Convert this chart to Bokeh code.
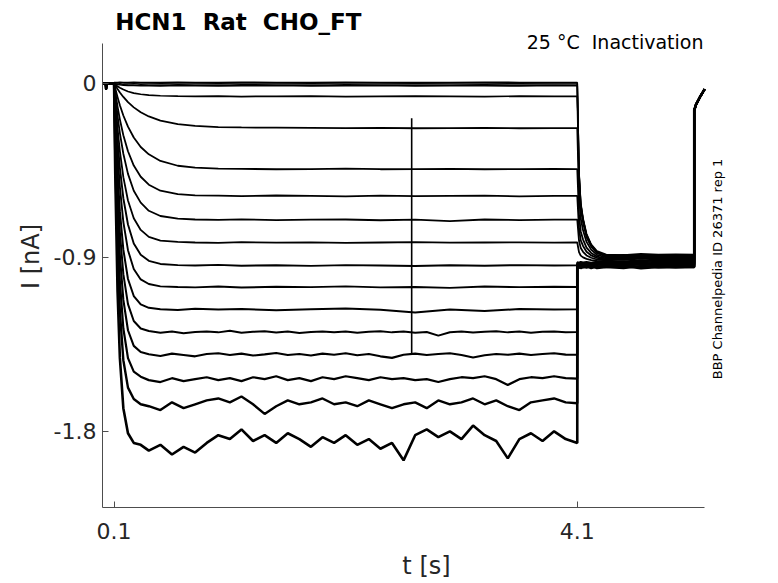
from math import pi
from bokeh.plotting import figure
from bokeh.models import Range1d, FixedTicker, PrintfTickFormatter, Label
from bokeh.embed import file_html
from bokeh.resources import INLINE

# ---------------- data ----------------
# holding period before the prepulse (with the small capacitive blip)
pre_t = [0.0, 0.028, 0.031, 0.034]
pre_i = [0.0, 0.0, -0.03, 0.0]

# prepulse period: knots in seconds
main_t = [0.1, 0.11, 0.13, 0.15, 0.18, 0.22, 0.27, 0.33, 0.4, 0.5, 0.65, 0.8,
          1.0, 1.2, 1.5, 1.8, 2.1, 2.4, 2.7, 3.0, 3.3, 3.6, 3.9, 4.1]

# current (nA) of the quiet sweeps during the prepulse
i_main_01 = [0.004, 0.005, 0.004, 0.006, 0.005, 0.004, 0.006, 0.005, 0.004, 0.005, 0.006, 0.004,
             0.005, 0.006, 0.004, 0.005, 0.006, 0.004, 0.005, 0.004, 0.006, 0.005, 0.004, 0.005]
i_main_02 = [0.0, -0.002, -0.003, -0.002, -0.004, -0.003, -0.002, -0.004, -0.003, -0.002, -0.004, -0.003,
             -0.002, -0.004, -0.003, -0.002, -0.004, -0.003, -0.002, -0.003, -0.004, -0.002, -0.003, -0.003]
i_main_03 = [0.0, -0.002, -0.005, -0.007, -0.009, -0.010, -0.011, -0.012, -0.012, -0.013, -0.011, -0.012,
             -0.013, -0.012, -0.011, -0.013, -0.012, -0.011, -0.013, -0.012, -0.012, -0.013, -0.011, -0.012]
i_main_04 = [0.0, -0.005, -0.015, -0.022, -0.032, -0.042, -0.050, -0.056, -0.061, -0.064, -0.066, -0.067,
             -0.066, -0.068, -0.067, -0.066, -0.068, -0.067, -0.066, -0.067, -0.068, -0.066, -0.067, -0.067]
i_main_05 = [0.0, -0.010, -0.029, -0.047, -0.070, -0.097, -0.124, -0.149, -0.171, -0.193, -0.211, -0.220,
             -0.226, -0.228, -0.229, -0.230, -0.231, -0.230, -0.232, -0.231, -0.230, -0.232, -0.231, -0.231]
i_main_06 = [0.0, -0.025, -0.071, -0.113, -0.166, -0.224, -0.280, -0.329, -0.367, -0.401, -0.426, -0.436,
             -0.441, -0.442, -0.444, -0.443, -0.441, -0.444, -0.443, -0.442, -0.444, -0.443, -0.442, -0.443]
i_main_07 = [0.0, -0.043, -0.120, -0.186, -0.268, -0.351, -0.425, -0.483, -0.524, -0.555, -0.573, -0.579,
             -0.581, -0.583, -0.580, -0.582, -0.584, -0.581, -0.583, -0.582, -0.581, -0.584, -0.582, -0.582]
i_main_08 = [0.0, -0.061, -0.168, -0.257, -0.364, -0.468, -0.555, -0.617, -0.659, -0.686, -0.700, -0.704,
             -0.706, -0.703, -0.707, -0.705, -0.704, -0.708, -0.705, -0.712, -0.704, -0.707, -0.705, -0.705]
i_main_09 = [0.0, -0.086, -0.233, -0.350, -0.485, -0.606, -0.698, -0.758, -0.794, -0.813, -0.820, -0.823,
             -0.825, -0.821, -0.824, -0.822, -0.825, -0.823, -0.821, -0.824, -0.823, -0.822, -0.824, -0.823]
i_main_10 = [0.0, -0.111, -0.294, -0.437, -0.594, -0.730, -0.828, -0.887, -0.918, -0.934, -0.940, -0.942,
             -0.939, -0.943, -0.941, -0.944, -0.940, -0.942, -0.945, -0.941, -0.943, -0.940, -0.942, -0.941]
i_main_11 = [0.0, -0.139, -0.367, -0.536, -0.717, -0.863, -0.960, -1.014, -1.038, -1.050, -1.053, -1.055,
             -1.051, -1.056, -1.052, -1.054, -1.050, -1.055, -1.053, -1.058, -1.051, -1.054, -1.052, -1.053]
i_main_12 = [0.0, -0.179, -0.460, -0.661, -0.860, -1.012, -1.100, -1.143, -1.161, -1.168, -1.172, -1.166,
             -1.170, -1.167, -1.173, -1.168, -1.165, -1.171, -1.185, -1.170, -1.178, -1.167, -1.170, -1.169]

# noisier sweeps: fast onset knots then a finer grid
onset_t = [0.1, 0.11, 0.13, 0.15, 0.18, 0.22, 0.27, 0.33]
noisy_t = [0.4, 0.5, 0.6, 0.7, 0.8, 0.9, 1.0, 1.1, 1.2, 1.3, 1.4, 1.5, 1.6, 1.7, 1.8, 1.9, 2.0,
           2.1, 2.2, 2.3, 2.4, 2.5, 2.6, 2.7, 2.8, 2.9, 3.0, 3.1, 3.2, 3.3, 3.4, 3.5, 3.6, 3.7,
           3.8, 3.9, 4.0, 4.1]
i_on_13 = [0.0, -0.214, -0.541, -0.769, -0.987, -1.142, -1.229, -1.268]
i_ns_13 = [-1.281, -1.290, -1.284, -1.292, -1.286, -1.283, -1.288, -1.280, -1.290, -1.285, -1.282, -1.289,
           -1.284, -1.291, -1.286, -1.283, -1.288, -1.284, -1.290, -1.285, -1.282, -1.288, -1.284, -1.290,
           -1.286, -1.305, -1.287, -1.283, -1.289, -1.285, -1.282, -1.288, -1.284, -1.290, -1.285, -1.283,
           -1.288, -1.286]
i_on_14 = [0.0, -0.255, -0.634, -0.888, -1.120, -1.277, -1.358, -1.390]
i_ns_14 = [-1.401, -1.410, -1.398, -1.405, -1.412, -1.400, -1.396, -1.405, -1.398, -1.408, -1.402, -1.395,
           -1.405, -1.400, -1.408, -1.398, -1.404, -1.396, -1.406, -1.400, -1.412, -1.420, -1.404, -1.398,
           -1.405, -1.400, -1.396, -1.405, -1.418, -1.406, -1.400, -1.404, -1.398, -1.405, -1.400, -1.396,
           -1.403, -1.404]
i_on_15 = [0.0, -0.304, -0.743, -1.024, -1.268, -1.421, -1.491, -1.517]
i_ns_15 = [-1.535, -1.545, -1.525, -1.540, -1.530, -1.520, -1.535, -1.525, -1.540, -1.520, -1.530, -1.515,
           -1.535, -1.525, -1.540, -1.520, -1.530, -1.515, -1.525, -1.535, -1.520, -1.530, -1.525, -1.535,
           -1.530, -1.545, -1.530, -1.520, -1.525, -1.515, -1.530, -1.560, -1.530, -1.520, -1.525, -1.515,
           -1.525, -1.527]
i_on_16 = [0.0, -0.366, -0.874, -1.180, -1.432, -1.574, -1.633, -1.660]
i_ns_16 = [-1.670, -1.690, -1.650, -1.680, -1.660, -1.640, -1.630, -1.650, -1.620, -1.660, -1.710, -1.670,
           -1.640, -1.660, -1.650, -1.630, -1.660, -1.650, -1.670, -1.640, -1.660, -1.680, -1.660, -1.650,
           -1.680, -1.640, -1.660, -1.650, -1.630, -1.660, -1.640, -1.670, -1.690, -1.650, -1.640, -1.630,
           -1.650, -1.655]
i_on_17 = [0.0, -0.465, -1.076, -1.420, -1.680, -1.810, -1.860, -1.870]
i_ns_17 = [-1.900, -1.870, -1.920, -1.880, -1.910, -1.860, -1.820, -1.840, -1.790, -1.850, -1.820, -1.860,
           -1.810, -1.840, -1.880, -1.830, -1.860, -1.820, -1.870, -1.840, -1.890, -1.860, -1.950, -1.820,
           -1.790, -1.830, -1.800, -1.840, -1.770, -1.820, -1.850, -1.940, -1.840, -1.810, -1.850, -1.800,
           -1.840, -1.860]

# test pulse (tail) period
tail_t = [4.1, 4.115, 4.13, 4.15, 4.18, 4.22, 4.27, 4.35, 4.5, 4.65, 4.8, 4.95, 5.11]
i_tail_01 = [0.005, -0.458, -0.618, -0.698, -0.778, -0.832, -0.867, -0.885, -0.888, -0.882, -0.886, -0.884, -0.885]
i_tail_02 = [-0.003, -0.464, -0.624, -0.704, -0.784, -0.837, -0.872, -0.890, -0.887, -0.893, -0.889, -0.891, -0.890]
i_tail_03 = [-0.012, -0.469, -0.627, -0.706, -0.785, -0.837, -0.872, -0.890, -0.893, -0.888, -0.891, -0.887, -0.890]
i_tail_04 = [-0.067, -0.498, -0.647, -0.721, -0.796, -0.845, -0.878, -0.895, -0.892, -0.898, -0.894, -0.896, -0.895]
i_tail_05 = [-0.231, -0.579, -0.699, -0.760, -0.820, -0.860, -0.887, -0.900, -0.903, -0.897, -0.901, -0.899, -0.900]
i_tail_06 = [-0.443, -0.683, -0.766, -0.808, -0.850, -0.877, -0.896, -0.905, -0.902, -0.908, -0.904, -0.906, -0.905]
i_tail_07 = [-0.582, -0.753, -0.812, -0.841, -0.871, -0.890, -0.903, -0.910, -0.913, -0.907, -0.911, -0.909, -0.910]
i_tail_08 = [-0.705, -0.814, -0.852, -0.871, -0.890, -0.902, -0.911, -0.915, -0.912, -0.918, -0.914, -0.916, -0.915]
i_tail_09 = [-0.823, -0.873, -0.891, -0.900, -0.908, -0.914, -0.918, -0.920, -0.923, -0.917, -0.921, -0.919, -0.920]
i_tail_10 = [-0.925, -0.927, -0.923, -0.926, -0.924, -0.927, -0.923, -0.925, -0.928, -0.922, -0.926, -0.924, -0.925]
i_tail_11 = [-0.930, -0.932, -0.928, -0.931, -0.929, -0.932, -0.928, -0.930, -0.933, -0.927, -0.931, -0.929, -0.930]
i_tail_12 = [-0.935, -0.938, -0.932, -0.936, -0.934, -0.938, -0.932, -0.935, -0.939, -0.931, -0.936, -0.934, -0.935]
i_tail_13 = [-0.935, -0.931, -0.939, -0.934, -0.937, -0.932, -0.938, -0.935, -0.931, -0.939, -0.934, -0.937, -0.935]
i_tail_14 = [-0.940, -0.944, -0.936, -0.942, -0.938, -0.945, -0.936, -0.940, -0.944, -0.936, -0.941, -0.939, -0.940]
i_tail_15 = [-0.945, -0.941, -0.950, -0.943, -0.948, -0.940, -0.949, -0.945, -0.940, -0.950, -0.944, -0.947, -0.945]
i_tail_16 = [-0.950, -0.955, -0.945, -0.952, -0.947, -0.956, -0.946, -0.950, -0.955, -0.945, -0.951, -0.948, -0.950]
i_tail_17 = [-0.950, -0.945, -0.956, -0.948, -0.953, -0.944, -0.955, -0.950, -0.945, -0.956, -0.949, -0.952, -0.950]

# return to holding at the end
final_t = [5.11, 5.125, 5.16, 5.2]
final_i = [-0.14, -0.11, -0.07, -0.03]

# single artifact spike in one sweep
spike_t = [2.67]
spike_top = [-0.18]
spike_bottom = [-1.404]

x_ticks = [0.1, 4.1]
y_ticks = [0.0, -0.9, -1.8]

NB = "\u00a0"
title_text = "HCN1" + NB + NB + "Rat" + NB + NB + "CHO_FT"
cond_text = "25" + NB + "°C" + NB + NB + "Inactivation"
id_text = "BBP Channelpedia ID 26371 rep 1"

# ---------------- assemble sweeps ----------------
quiet_main = [i_main_01, i_main_02, i_main_03, i_main_04, i_main_05, i_main_06,
              i_main_07, i_main_08, i_main_09, i_main_10, i_main_11, i_main_12]
noisy_on = [i_on_13, i_on_14, i_on_15, i_on_16, i_on_17]
noisy_ns = [i_ns_13, i_ns_14, i_ns_15, i_ns_16, i_ns_17]
tail_list = [i_tail_01, i_tail_02, i_tail_03, i_tail_04, i_tail_05, i_tail_06, i_tail_07, i_tail_08,
             i_tail_09, i_tail_10, i_tail_11, i_tail_12, i_tail_13, i_tail_14, i_tail_15, i_tail_16, i_tail_17]
line_widths = [1.6, 1.6, 1.6, 1.7, 1.8, 1.8, 1.8, 1.8, 1.8, 1.9, 1.9, 2.0, 2.0, 2.1, 2.2, 2.4, 2.6]

sweeps_t = []
sweeps_i = []
for mi in quiet_main:
    sweeps_t.append(pre_t + main_t)
    sweeps_i.append(pre_i + mi)
for on, ns in zip(noisy_on, noisy_ns):
    sweeps_t.append(pre_t + onset_t + noisy_t)
    sweeps_i.append(pre_i + on + ns)

# ---------------- figure ----------------
p = figure(width=770, height=582, output_backend="svg", toolbar_location=None,
           x_range=Range1d(0.0, 5.596), y_range=Range1d(-2.194, 0.403),
           min_border_left=102, min_border_right=20, min_border_top=5, min_border_bottom=70)
p.outline_line_color = None
p.grid.visible = False
p.background_fill_color = "white"
p.border_fill_color = "white"

for st, si, ti, lw in zip(sweeps_t, sweeps_i, tail_list, line_widths):
    p.line(st + tail_t + final_t, si + ti + final_i, line_color="black", line_width=lw)

p.segment(x0=spike_t, y0=spike_top, x1=spike_t, y1=spike_bottom, line_color="black", line_width=1.6)

axis_col = "#262626"
for ax in (p.xaxis[0], p.yaxis[0]):
    ax.axis_line_color = "#4d4d4d"
    ax.axis_line_width = 1
    ax.major_tick_line_color = "#4d4d4d"
    ax.major_tick_in = 6
    ax.major_tick_out = 0
    ax.minor_tick_line_color = None
    ax.major_label_text_font = "DejaVu Sans"
    ax.major_label_text_font_size = "22px"
    ax.major_label_text_color = axis_col
    ax.axis_label_text_font = "DejaVu Sans"
    ax.axis_label_text_font_size = "24px"
    ax.axis_label_text_font_style = "normal"
    ax.axis_label_text_color = axis_col
    ax.formatter = PrintfTickFormatter(format="%g")

p.xaxis.ticker = FixedTicker(ticks=x_ticks)
p.yaxis.ticker = FixedTicker(ticks=y_ticks)
p.xaxis.bounds = (0.0, 5.2)
p.yaxis.bounds = (-2.194, 0.209)
p.xaxis.axis_label = "t [s]"
p.yaxis.axis_label = "I [nA]"
p.xaxis.major_label_standoff = 15
p.xaxis.axis_label_standoff = 10
p.yaxis.major_label_standoff = 6
p.yaxis.axis_label_standoff = 6

p.add_layout(Label(x=0.11, y=0.318, text=title_text, text_font="DejaVu Sans",
                   text_font_size="23px", text_font_style="bold", text_color="black",
                   text_align="left", text_baseline="alphabetic"))
p.add_layout(Label(x=5.19, y=0.215, text=cond_text, text_font="DejaVu Sans",
                   text_font_size="19px", text_color="black",
                   text_align="right", text_baseline="alphabetic"))
p.add_layout(Label(x=5.311, y=-0.96, text=id_text, text_font="DejaVu Sans",
                   text_font_size="13px", text_color="black", angle=pi / 2,
                   text_align="center", text_baseline="middle"))

open("out.html", "w").write(file_html(p, INLINE))
